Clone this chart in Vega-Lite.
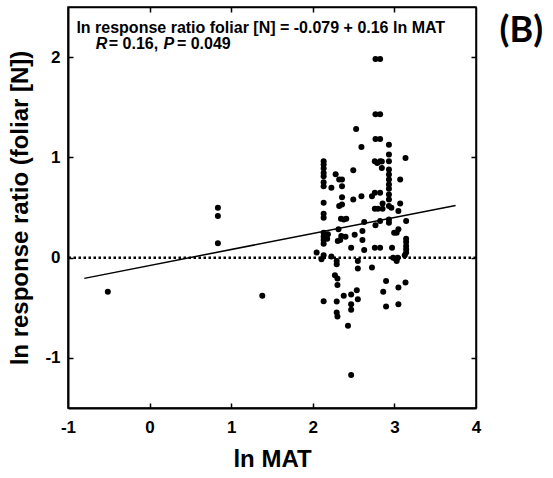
{
  "$schema": "https://vega.github.io/schema/vega-lite/v6.json",
  "width": 408,
  "height": 401,
  "autosize": "none",
  "padding": {"left": 68, "top": 7, "right": 77, "bottom": 70},
  "config": {"view": {"stroke": "black", "strokeWidth": 1.5}, "font": "Liberation Sans"},
  "datasets": {
    "points": [
      {"x": -0.512, "y": -0.341},
      {"x": 0.837, "y": 0.497}, {"x": 0.837, "y": 0.414}, {"x": 0.837, "y": 0.143},
      {"x": 1.381, "y": -0.381},
      {"x": 2.133, "y": 0.961}, {"x": 2.133, "y": 0.928}, {"x": 2.133, "y": 0.888}, {"x": 2.133, "y": 0.845},
      {"x": 2.133, "y": 0.812}, {"x": 2.133, "y": 0.752}, {"x": 2.133, "y": 0.713}, {"x": 2.133, "y": 0.547},
      {"x": 2.133, "y": 0.438}, {"x": 2.133, "y": 0.398}, {"x": 2.133, "y": 0.249}, {"x": 2.133, "y": 0.209},
      {"x": 2.133, "y": 0.176}, {"x": 2.133, "y": 0.139}, {"x": 2.133, "y": 0.023}, {"x": 2.133, "y": -0.434},
      {"x": 2.107, "y": -0.017},
      {"x": 2.185, "y": 0.232}, {"x": 2.176, "y": 0.189},
      {"x": 2.047, "y": 0.05},
      {"x": 2.228, "y": 0.696}, {"x": 2.228, "y": 0.01},
      {"x": 2.28, "y": 0.832}, {"x": 2.323, "y": 0.779}, {"x": 2.323, "y": 0.514}, {"x": 2.315, "y": 0.282},
      {"x": 2.306, "y": 0.166}, {"x": 2.293, "y": -0.033}, {"x": 2.293, "y": -0.066}, {"x": 2.271, "y": -0.176},
      {"x": 2.302, "y": -0.209}, {"x": 2.302, "y": -0.272}, {"x": 2.293, "y": -0.438}, {"x": 2.293, "y": -0.547},
      {"x": 2.302, "y": -0.587},
      {"x": 2.358, "y": 0.779}, {"x": 2.358, "y": 0.713}, {"x": 2.358, "y": 0.603}, {"x": 2.358, "y": 0.53},
      {"x": 2.345, "y": 0.388}, {"x": 2.379, "y": 0.381}, {"x": 2.336, "y": 0.176}, {"x": 2.349, "y": 0.215},
      {"x": 2.41, "y": 0.388}, {"x": 2.401, "y": 0.209}, {"x": 2.379, "y": -0.381},
      {"x": 2.431, "y": -0.679},
      {"x": 2.47, "y": -0.368}, {"x": 2.47, "y": -0.464}, {"x": 2.47, "y": -0.52}, {"x": 2.47, "y": 0.099},
      {"x": 2.47, "y": -1.17},
      {"x": 2.496, "y": 0.872}, {"x": 2.496, "y": 0.58},
      {"x": 2.531, "y": 1.283}, {"x": 2.513, "y": 0.229},
      {"x": 2.552, "y": -0.033}, {"x": 2.552, "y": -0.109}, {"x": 2.539, "y": -0.325}, {"x": 2.552, "y": -0.414},
      {"x": 2.596, "y": 1.104}, {"x": 2.596, "y": 0.613}, {"x": 2.608, "y": 0.265}, {"x": 2.608, "y": 0.176},
      {"x": 2.63, "y": 0.355}, {"x": 2.63, "y": 0.076},
      {"x": 2.725, "y": 0.613}, {"x": 2.725, "y": -0.099},
      {"x": 2.76, "y": 0.646}, {"x": 2.76, "y": 0.487}, {"x": 2.768, "y": 0.322}, {"x": 2.76, "y": 0.099},
      {"x": 2.768, "y": 1.982}, {"x": 2.825, "y": 1.982}, {"x": 2.768, "y": 1.429}, {"x": 2.825, "y": 1.429},
      {"x": 2.768, "y": 1.183}, {"x": 2.825, "y": 1.183}, {"x": 2.76, "y": 0.961}, {"x": 2.79, "y": 0.945},
      {"x": 2.825, "y": 0.961}, {"x": 2.825, "y": 0.646}, {"x": 2.799, "y": 0.487}, {"x": 2.825, "y": 0.365},
      {"x": 2.825, "y": 0.099},
      {"x": 2.846, "y": 0.958}, {"x": 2.846, "y": 0.895}, {"x": 2.855, "y": 0.54}, {"x": 2.855, "y": 0.487},
      {"x": 2.863, "y": -0.341}, {"x": 2.898, "y": -0.232}, {"x": 2.898, "y": -0.487},
      {"x": 2.933, "y": 1.127}, {"x": 2.933, "y": 1.028}, {"x": 2.933, "y": 0.961}, {"x": 2.933, "y": 0.878},
      {"x": 2.933, "y": 0.829}, {"x": 2.933, "y": 0.779}, {"x": 2.933, "y": 0.729}, {"x": 2.933, "y": 0.686},
      {"x": 2.933, "y": 0.63}, {"x": 2.933, "y": 0.58}, {"x": 2.933, "y": 0.514}, {"x": 2.933, "y": 0.381},
      {"x": 2.933, "y": 0.348},
      {"x": 2.963, "y": 0.497}, {"x": 2.971, "y": 0.099}, {"x": 2.984, "y": 0.0}, {"x": 2.997, "y": 0.249},
      {"x": 3.028, "y": 0.249}, {"x": 3.049, "y": 0.282}, {"x": 3.049, "y": 0.464}, {"x": 3.041, "y": 0.0},
      {"x": 3.015, "y": -0.01}, {"x": 3.028, "y": -0.033}, {"x": 3.049, "y": -0.298}, {"x": 3.049, "y": -0.464},
      {"x": 3.071, "y": 0.779}, {"x": 3.071, "y": 0.54},
      {"x": 3.136, "y": 0.994}, {"x": 3.144, "y": 0.365}, {"x": 3.144, "y": 0.189}, {"x": 3.144, "y": 0.156},
      {"x": 3.144, "y": 0.116}, {"x": 3.144, "y": 0.083}, {"x": 3.144, "y": 0.05}, {"x": 3.127, "y": 0.023},
      {"x": 3.136, "y": -0.249}
    ],
    "fit": [
      {"x": -0.8, "y": -0.207},
      {"x": 3.75, "y": 0.521}
    ],
    "one": [{}]
  },
  "resolve": {"axis": {"x": "independent", "y": "independent"}},
  "layer": [
    {
      "data": {"name": "one"},
      "mark": {"type": "rule", "color": "black", "strokeWidth": 2.5, "strokeDash": [2.5, 2.5]},
      "encoding": {
        "y": {"datum": 0, "type": "quantitative", "scale": {"domain": [-1.5, 2.5], "nice": false, "zero": false}, "axis": null}
      }
    },
    {
      "data": {"name": "fit"},
      "mark": {"type": "line", "color": "black", "strokeWidth": 1.5},
      "encoding": {
        "x": {"field": "x", "type": "quantitative", "scale": {"domain": [-1, 4], "nice": false, "zero": false},
              "axis": {"orient": "top", "title": null, "labels": false, "ticks": false, "domain": true, "domainColor": "black", "domainWidth": 1.5, "grid": false}},
        "y": {"field": "y", "type": "quantitative", "scale": {"domain": [-1.5, 2.5], "nice": false, "zero": false},
              "axis": {"orient": "right", "title": null, "labels": false, "ticks": false, "domain": true, "domainColor": "black", "domainWidth": 1.5, "grid": false}}
      }
    },
    {
      "data": {"name": "points"},
      "mark": {"type": "circle", "color": "black", "opacity": 1, "size": 36},
      "encoding": {
        "x": {"field": "x", "type": "quantitative", "scale": {"domain": [-1, 4], "nice": false, "zero": false},
              "axis": {"orient": "bottom", "title": "ln MAT", "values": [-1, 0, 1, 2, 3, 4], "labelExpr": "'' + datum.value",
                       "ticks": false, "domainColor": "black", "domainWidth": 2, "grid": false,
                       "labelFont": "Liberation Sans", "labelFontWeight": "bold", "labelFontSize": 17, "labelColor": "black", "labelPadding": 11,
                       "labelFlush": false,
                       "titleFont": "Liberation Sans", "titleFontWeight": "bold", "titleFontSize": 24, "titleColor": "black", "titlePadding": 12}},
        "y": {"field": "y", "type": "quantitative", "scale": {"domain": [-1.5, 2.5], "nice": false, "zero": false},
              "axis": {"orient": "left", "title": "ln response ratio (foliar [N])", "values": [-1, 0, 1, 2], "labelExpr": "'' + datum.value",
                       "ticks": false, "domainColor": "black", "domainWidth": 2, "grid": false,
                       "labelFont": "Liberation Sans", "labelFontWeight": "bold", "labelFontSize": 17, "labelColor": "black", "labelPadding": 8,
                       "titleFont": "Liberation Sans", "titleFontWeight": "bold", "titleFontSize": 24, "titleColor": "black", "titlePadding": 12}}
      }
    },
    {
      "data": {"name": "one"},
      "mark": {"type": "text", "align": "left", "baseline": "middle", "font": "Liberation Sans", "fontWeight": "bold", "fontSize": 16, "color": "black"},
      "encoding": {
        "x": {"datum": -0.897, "type": "quantitative", "scale": {"domain": [-1, 4], "nice": false, "zero": false},
              "axis": {"orient": "top", "offset": -5, "title": null, "labels": false, "domain": false, "values": [0, 1, 2, 3], "tickSize": 5, "tickColor": "black", "tickWidth": 1.5, "grid": false}},
        "y": {"datum": 2.29, "type": "quantitative", "scale": {"domain": [-1.5, 2.5], "nice": false, "zero": false},
              "axis": {"orient": "right", "offset": -5, "title": null, "labels": false, "domain": false, "values": [-1, 0, 1, 2], "tickSize": 5, "tickColor": "black", "tickWidth": 1.5, "grid": false}},
        "text": {"value": "ln response ratio foliar [N] = -0.079 + 0.16 ln MAT"}
      }
    },
    {
      "data": {"name": "one"},
      "mark": {"type": "text", "align": "left", "baseline": "middle", "font": "Liberation Sans", "fontWeight": "bold", "fontStyle": "italic", "fontSize": 16, "color": "black"},
      "encoding": {
        "x": {"datum": -0.66, "type": "quantitative", "scale": {"domain": [-1, 4], "nice": false, "zero": false}, "axis": null},
        "y": {"datum": 2.13, "type": "quantitative", "scale": {"domain": [-1.5, 2.5], "nice": false, "zero": false}, "axis": null},
        "text": {"value": "R"}
      }
    },
    {
      "data": {"name": "one"},
      "mark": {"type": "text", "align": "left", "baseline": "middle", "font": "Liberation Sans", "fontWeight": "bold", "fontSize": 16, "color": "black"},
      "encoding": {
        "x": {"datum": -0.5, "type": "quantitative", "scale": {"domain": [-1, 4], "nice": false, "zero": false}, "axis": null},
        "y": {"datum": 2.13, "type": "quantitative", "scale": {"domain": [-1.5, 2.5], "nice": false, "zero": false}, "axis": null},
        "text": {"value": "= 0.16,"}
      }
    },
    {
      "data": {"name": "one"},
      "mark": {"type": "text", "align": "left", "baseline": "middle", "font": "Liberation Sans", "fontWeight": "bold", "fontStyle": "italic", "fontSize": 16, "color": "black"},
      "encoding": {
        "x": {"datum": 0.17, "type": "quantitative", "scale": {"domain": [-1, 4], "nice": false, "zero": false}, "axis": null},
        "y": {"datum": 2.13, "type": "quantitative", "scale": {"domain": [-1.5, 2.5], "nice": false, "zero": false}, "axis": null},
        "text": {"value": "P"}
      }
    },
    {
      "data": {"name": "one"},
      "mark": {"type": "text", "align": "left", "baseline": "middle", "font": "Liberation Sans", "fontWeight": "bold", "fontSize": 16, "color": "black"},
      "encoding": {
        "x": {"datum": 0.335, "type": "quantitative", "scale": {"domain": [-1, 4], "nice": false, "zero": false}, "axis": null},
        "y": {"datum": 2.13, "type": "quantitative", "scale": {"domain": [-1.5, 2.5], "nice": false, "zero": false}, "axis": null},
        "text": {"value": "= 0.049"}
      }
    },
    {
      "data": {"name": "one"},
      "mark": {"type": "text", "align": "center", "baseline": "middle", "font": "Lato", "fontWeight": "bold", "fontSize": 36, "color": "black", "clip": false},
      "encoding": {
        "x": {"datum": 4.555, "type": "quantitative", "scale": {"domain": [-1, 4], "nice": false, "zero": false},
              "axis": {"orient": "bottom", "offset": -5, "title": null, "labels": false, "domain": false, "values": [0, 1, 2, 3], "tickSize": 5, "tickColor": "black", "tickWidth": 1.5, "grid": false}},
        "y": {"datum": 2.26, "type": "quantitative", "scale": {"domain": [-1.5, 2.5], "nice": false, "zero": false},
              "axis": {"orient": "left", "offset": -5, "title": null, "labels": false, "domain": false, "values": [-1, 0, 1, 2], "tickSize": 5, "tickColor": "black", "tickWidth": 1.5, "grid": false}},
        "text": {"value": "(B)"}
      }
    }
  ]
}
